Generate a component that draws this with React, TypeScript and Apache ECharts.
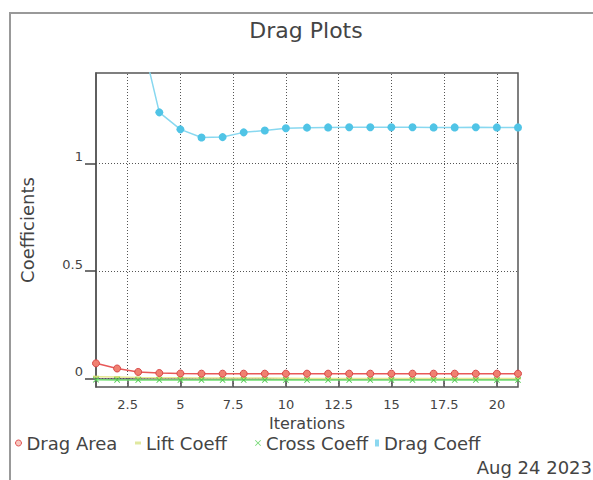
import React, { useEffect, useRef } from "react";
import * as echarts from "echarts";

const iterations = [1, 2, 3, 4, 5, 6, 7, 8, 9, 10, 11, 12, 13, 14, 15, 16, 17, 18, 19, 20, 21];
const dragArea = [0.07, 0.046, 0.03, 0.025, 0.023, 0.022, 0.022, 0.022, 0.022, 0.022, 0.022, 0.022, 0.022, 0.022, 0.022, 0.022, 0.022, 0.022, 0.022, 0.022, 0.022];
const liftCoeff = [0.008, 0.006, 0.004, 0.003, 0.003, 0.002, 0.002, 0.002, 0.002, 0.001, 0.0, -0.001, -0.001, 0.0, 0.0, 0.0, 0.0, 0.0, 0.0, 0.0, 0.0];
const crossCoeff = [-0.006, -0.007, -0.008, -0.008, -0.008, -0.008, -0.008, -0.008, -0.008, -0.008, -0.008, -0.008, -0.008, -0.008, -0.008, -0.008, -0.008, -0.008, -0.008, -0.008, -0.008];
const dragCoeff = [3.2, 2.2, 1.65, 1.237, 1.158, 1.12, 1.122, 1.144, 1.153, 1.163, 1.166, 1.167, 1.168, 1.168, 1.168, 1.168, 1.167, 1.167, 1.168, 1.167, 1.167];
const xTicks = [2.5, 5, 7.5, 10, 12.5, 15, 17.5, 20];
const yTicks = [0, 0.5, 1];

const FONT = "DejaVu Sans";
const TXT = "#444";
const X_ICON = "path://M0,1L1,0L5,4L9,0L10,1L6,5L10,9L9,10L5,6L1,10L0,9L4,5Z";

function pair(xs: number[], ys: number[]) {
  return xs.map((x, i) => [x, ys[i]]);
}

export default function App() {
  const ref = useRef<HTMLDivElement>(null);
  useEffect(() => {
    if (!ref.current) return;
    const chart = echarts.init(ref.current, null, { renderer: "svg" });
    const gridLine = { color: "#555", width: 1, type: [1, 2] as any };
    const legendBase = (name: string, left: number, icon: string, w: number, h: number, itemStyle: any) => ({
      data: [{ name, icon, itemStyle }],
      left,
      top: 434,
      itemWidth: w,
      itemHeight: h,
      padding: 0,
      selectedMode: false,
      textStyle: { fontFamily: FONT, fontSize: 18, color: TXT, padding: [0, 0, 0, 0] },
    });
    chart.setOption({
      animation: false,
      backgroundColor: "#fff",
      graphic: [
        { type: "rect", shape: { x: 10, y: 13, width: 800, height: 700 }, style: { fill: "none", stroke: "#999", lineWidth: 2 }, silent: true },
        { type: "text", x: 306, y: 30, style: { text: "Drag Plots", fontFamily: FONT, fontSize: 22, fill: TXT, textAlign: "center", textVerticalAlign: "middle" } },
        { type: "text", x: 592, y: 467, style: { text: "Aug 24 2023", fontFamily: FONT, fontSize: 18, fill: TXT, textAlign: "right", textVerticalAlign: "middle" } },
      ],
      grid: { left: 96, top: 73, right: 75, bottom: 93, show: true, borderColor: "#555", borderWidth: 1.5, backgroundColor: "transparent" },
      legend: [
        legendBase("Drag Area", 15, "circle", 6, 6, { color: "#f8c8c0", borderColor: "#e05050", borderWidth: 1 }),
        legendBase("Lift Coeff", 135, "rect", 6, 3, { color: "#e0e8a0", borderWidth: 0 }),
        legendBase("Cross Coeff", 255, X_ICON, 6, 6, { color: "#70d870", borderWidth: 0 }),
        legendBase("Drag Coeff", 375, "rect", 4, 7, { color: "#8cd8f0", borderWidth: 0 }),
      ],
      xAxis: {
        type: "value",
        min: 1,
        max: 21,
        name: "Iterations",
        nameLocation: "middle",
        nameGap: 21,
        nameTextStyle: { fontFamily: FONT, fontSize: 16, color: TXT },
        axisLine: { show: true, lineStyle: { color: "#5a4a6a", width: 1.5 } },
        axisTick: { show: true, customValues: xTicks, length: 8, lineStyle: { color: "#444", width: 1.5 } },
        axisLabel: { customValues: xTicks, margin: 11, fontFamily: FONT, fontSize: 13, color: TXT },
        splitLine: { show: false },
      },
      yAxis: {
        type: "value",
        min: -0.04,
        max: 1.42,
        name: "Coefficients",
        nameLocation: "middle",
        nameGap: 60,
        nameTextStyle: { fontFamily: FONT, fontSize: 18, color: TXT },
        axisLine: { show: true, lineStyle: { color: "#555", width: 1.5 } },
        axisTick: { show: true, customValues: yTicks, length: 11, lineStyle: { color: "#444", width: 1.5 } },
        axisLabel: { customValues: yTicks, margin: 13, verticalAlign: "bottom", fontFamily: FONT, fontSize: 13, color: TXT },
        splitLine: { show: false },
      },
      series: [
        {
          name: "Drag Area",
          type: "line",
          data: pair(iterations, dragArea),
          symbol: "circle",
          symbolSize: 7,
          itemStyle: { color: "#f08070", borderColor: "#d84848", borderWidth: 1 },
          lineStyle: { color: "#e85858", width: 1.5 },
          z: 5,
          markLine: {
            silent: true,
            symbol: "none",
            label: { show: false },
            lineStyle: gridLine,
            z: 1,
            data: [...xTicks.map((v) => ({ xAxis: v })), ...yTicks.map((v) => ({ yAxis: v }))],
          },
        },
        {
          name: "Lift Coeff",
          type: "line",
          data: pair(iterations, liftCoeff),
          symbol: "rect",
          symbolSize: [6, 2],
          itemStyle: { color: "#d0dc70" },
          lineStyle: { color: "#e6e890", width: 1.5 },
          z: 4,
        },
        {
          name: "Cross Coeff",
          type: "line",
          data: pair(iterations, crossCoeff),
          symbol: X_ICON,
          symbolSize: 6,
          itemStyle: { color: "#50c850" },
          lineStyle: { color: "#70e070", width: 1.5 },
          z: 4,
        },
        {
          name: "Drag Coeff",
          type: "line",
          data: pair(iterations, dragCoeff),
          symbol: "circle",
          symbolSize: 8,
          itemStyle: { color: "#50c4e6" },
          lineStyle: { color: "#88d8f0", width: 1.5 },
          z: 5,
        },
      ],
    });
    return () => chart.dispose();
  }, []);
  return <div ref={ref} style={{ position: "fixed", left: 0, top: 0, width: 593, height: 480 }} />;
}
